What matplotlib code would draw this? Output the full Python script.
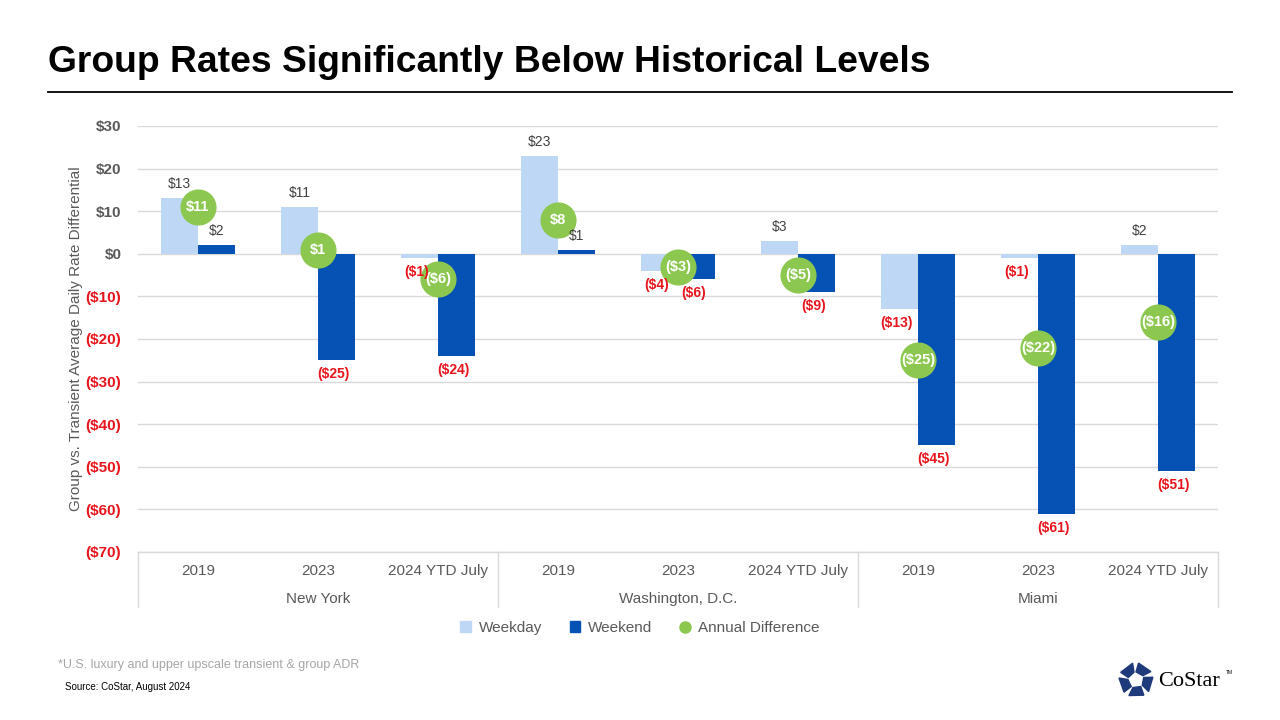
import numpy as np
import matplotlib
matplotlib.use("Agg")
import matplotlib.pyplot as plt
from matplotlib.lines import Line2D
from matplotlib.patches import Patch, Polygon

plt.rcParams['font.family'] = ['Liberation Sans', 'DejaVu Sans']

# data
cities = ["New York", "Washington, D.C.", "Miami"]
periods = ["2019", "2023", "2024 YTD July"]
weekday = [13, 11, -1, 23, -4, 3, -13, -1, 2]
weekend = [2, -25, -24, 1, -6, -9, -45, -61, -51]
annual_diff = [11, 1, -6, 8, -3, -5, -25, -22, -16]
y_ticks = [30, 20, 10, 0, -10, -20, -30, -40, -50, -60, -70]

light = "#BDD7F5"
dark = "#0652B4"
green = "#8CC850"
red = "#E8141C"
grey = "#595959"

def money(v):
    return f"${v}" if v >= 0 else f"(${-v})"

fig = plt.figure(figsize=(12.8, 7.2), dpi=100)
ax = fig.add_axes([138/1280, 1-552/720, 1080/1280, 426/720])

x = np.arange(len(weekday))
w = 0.31
b1 = ax.bar(x - w/2, weekday, w, color=light, zorder=2)
b2 = ax.bar(x + w/2, weekend, w, color=dark, zorder=2)
ax.plot(x, annual_diff, 'o', color=green, markersize=25, zorder=4)

for xi, v in zip(x, annual_diff):
    ax.text(xi, v, money(v), color="white", fontsize=10.5, fontweight="bold",
            ha="center", va="center", zorder=5)

for bars, vals in ((b1, weekday), (b2, weekend)):
    for bar, v in zip(bars, vals):
        cx = bar.get_x() + bar.get_width()/2
        if v >= 0:
            ax.annotate(money(v), (cx, v), xytext=(0, 5), textcoords="offset points",
                        ha="center", va="bottom", fontsize=10, color="#404040", zorder=6)
        else:
            ax.annotate(money(v), (cx, v), xytext=(-2, -5), textcoords="offset points",
                        ha="center", va="top", fontsize=10, color=red,
                        fontweight="bold", zorder=6)

ax.set_xlim(-0.5, len(weekday) - 0.5)
ax.set_ylim(-70, 30)
ax.set_yticks(y_ticks)
ax.set_yticklabels([money(t) for t in y_ticks], fontsize=11, fontweight="bold")
for lab, t in zip(ax.get_yticklabels(), y_ticks):
    lab.set_color(grey if t >= 0 else red)
ax.tick_params(axis="y", length=0, pad=12)
ax.set_xticks([])
ax.grid(axis="y", color="#D9D9D9", linewidth=1, zorder=0)
for s in ax.spines.values():
    s.set_visible(False)
ax.axhline(-70, color="#D9D9D9", linewidth=1, clip_on=False, zorder=1)

ax.set_ylabel("Group vs. Transient Average Daily Rate Differential", fontsize=11,
              color=grey, labelpad=2)

# two-level category axis
trans = ax.get_xaxis_transform()
for i, p in enumerate(periods * len(cities)):
    ax.text(i, -0.045, p, transform=trans, ha="center", va="center",
            fontsize=11, color=grey)
for j, c in enumerate(cities):
    ax.text(j*3 + 1, -0.11, c, transform=trans, ha="center", va="center",
            fontsize=11, color=grey)
for k in range(len(cities) + 1):
    ax.add_line(Line2D([k*3 - 0.5, k*3 - 0.5], [0, -0.13], transform=trans,
                       color="#D9D9D9", linewidth=1, clip_on=False))

handles = [Patch(color=light, label="Weekday"), Patch(color=dark, label="Weekend"),
           Line2D([], [], marker="o", color=green, linestyle="none", markersize=8,
                  label="Annual Difference")]
leg = fig.legend(handles=handles, loc="center", bbox_to_anchor=(640/1280, 1-628/720),
                 ncol=3, frameon=False, fontsize=11, handlelength=0.7, handleheight=0.7,
                 columnspacing=1.8, handletextpad=0.5)
for t in leg.get_texts():
    t.set_color(grey)

# title and rule
fig.text(48/1280, 1-63/720, "Group Rates Significantly Below Historical Levels",
         fontsize=26.8, fontweight="bold", color="black", va="center", ha="left")
fig.add_artist(Line2D([48/1280, 1232/1280], [1-92/720, 1-92/720], color="black",
                      linewidth=1.3))

fig.text(58/1280, 1-665/720, "*U.S. luxury and upper upscale transient & group ADR",
         fontsize=9, color="#A6A6A6", va="center")
fig.text(65/1280, 1-687/720, "Source: CoStar, August 2024", fontsize=7,
         color="black", va="center")

# logo
lax = fig.add_axes([1118/1280, 1-698/720, 36/1280, 36/720])
lax.set_xlim(-1, 1)
lax.set_ylim(-1, 1)
lax.axis("off")
for k in range(5):
    a = np.deg2rad(90 + 72*k)
    b = a + np.deg2rad(72)
    pts = [(0.45*np.cos(a + 0.25), 0.45*np.sin(a + 0.25)),
           (0.95*np.cos(a + 0.2), 0.95*np.sin(a + 0.2)),
           (0.95*np.cos(b - 0.15), 0.95*np.sin(b - 0.15)),
           (0.45*np.cos(b), 0.45*np.sin(b))]
    lax.add_patch(Polygon(pts, closed=True, color="#1F3A7A"))
fig.text(1158/1280, 1-682/720, "CoStar", fontsize=16, family="Liberation Serif",
         color="black", va="center")
fig.text(1226/1280, 1-673/720, "TM", fontsize=3.5, color="black", va="center")

fig.savefig("out.png", dpi=100)
